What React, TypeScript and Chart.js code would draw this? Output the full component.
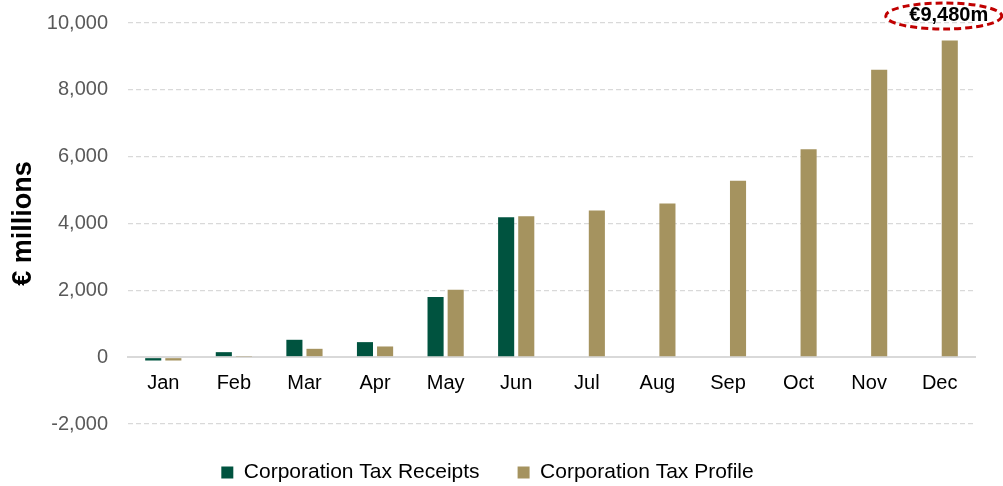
import React, { useEffect, useRef } from "react";
import { Chart, registerables } from "chart.js";

Chart.register(...registerables);

const months = ["Jan", "Feb", "Mar", "Apr", "May", "Jun", "Jul", "Aug", "Sep", "Oct", "Nov", "Dec"];
const receipts: (number | null)[] = [-100, 150, 520, 450, 1800, 4190, null, null, null, null, null, null];
const profile: number[] = [-100, 20, 250, 320, 2020, 4220, 4390, 4600, 5280, 6220, 8600, 9480];
const seriesNames = ["Corporation Tax Receipts", "Corporation Tax Profile"];
const seriesColors = ["#00533F", "#A5935F"];
const annotationText = "€9,480m";
const yTicks = { min: -2000, max: 10000, step: 2000 };

const FONT = "'Liberation Sans', Arial, sans-serif";

const annotationPlugin = {
  id: "calloutEllipse",
  afterDatasetsDraw(chart: any) {
    const meta = chart.getDatasetMeta(1);
    const el = meta.data[meta.data.length - 1];
    if (!el) return;
    const ctx = chart.ctx;
    const cx = el.x - 4;
    const cy = chart.chartArea.top - 8;
    ctx.save();
    ctx.font = `bold 20px ${FONT}`;
    ctx.fillStyle = "#000000";
    ctx.textAlign = "center";
    ctx.textBaseline = "middle";
    ctx.fillText(annotationText, cx + 3, cy);
    ctx.beginPath();
    ctx.ellipse(cx - 2, cy + 1, 58, 13, 0, 0, Math.PI * 2);
    ctx.setLineDash([7, 4]);
    ctx.lineWidth = 3;
    ctx.strokeStyle = "#C00000";
    ctx.stroke();
    ctx.restore();
  },
};

export default function App() {
  const ref = useRef<HTMLCanvasElement | null>(null);
  useEffect(() => {
    document.body.style.margin = "0";
    if (!ref.current) return;
    const chart = new Chart(ref.current, {
      type: "bar",
      data: {
        labels: months,
        datasets: [
          { label: seriesNames[0], data: receipts, backgroundColor: seriesColors[0], borderWidth: 0 },
          { label: seriesNames[1], data: profile, backgroundColor: seriesColors[1], borderWidth: 0 },
        ],
      },
      options: {
        animation: false,
        responsive: false,
        maintainAspectRatio: false,
        layout: { padding: { top: 23, right: 28, left: 0, bottom: 0 } },
        datasets: { bar: { categoryPercentage: 0.57, barPercentage: 0.8 } },
        plugins: {
          legend: {
            position: "bottom",
            maxHeight: 62,
            labels: {
              boxWidth: 12,
              boxHeight: 12,
              padding: 38,
              color: "#000000",
              font: { family: FONT, size: 21 },
            },
          },
          tooltip: { enabled: false },
        },
        scales: {
          x: {
            position: { y: 0 } as any,
            grid: { display: false, drawTicks: false },
            border: { display: true, color: "#D9D9D9", width: 2 },
            ticks: {
              padding: 14,
              color: "#000000",
              font: { family: FONT, size: 20 },
            },
            afterFit: (s: any) => {
              s.height = 0;
            },
          },
          y: {
            min: yTicks.min,
            max: yTicks.max,
            ticks: {
              stepSize: yTicks.step,
              padding: 2,
              color: "#595959",
              font: { family: FONT, size: 20 },
              callback: (v: any) => Number(v).toLocaleString("en-US"),
            },
            grid: {
              drawTicks: true,
              tickLength: 18,
              tickColor: "rgba(0,0,0,0)",
              color: "#D9D9D9",
              lineWidth: (c: any) => (c.tick && c.tick.value === 0 ? 2 : 1.3),
            },
            border: {
              display: false,
              dash: (c: any) => (c.tick && c.tick.value === 0 ? [] : [5, 3]),
            } as any,
            title: {
              display: true,
              text: "€ millions",
              color: "#000000",
              font: { family: FONT, size: 27, weight: "bold" },
              padding: { top: 7, bottom: 4 },
            },
            afterFit: (s: any) => {
              s.width = 128;
            },
          },
        },
      },
      plugins: [annotationPlugin],
    });
    return () => chart.destroy();
  }, []);
  return (
    <div style={{ width: 1003, height: 486 }}>
      <canvas ref={ref} width={1003} height={486} style={{ display: "block" }} />
    </div>
  );
}
